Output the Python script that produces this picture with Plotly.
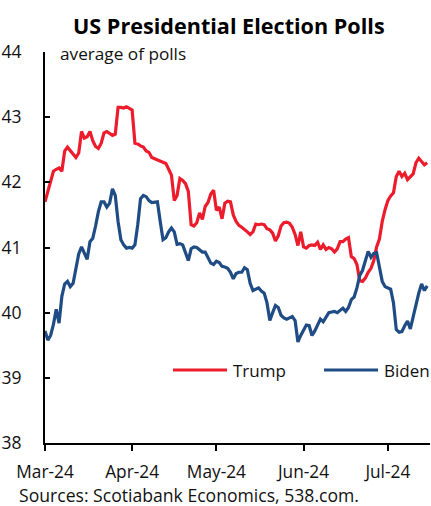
import plotly.graph_objects as go

trump_dates = [
    "2024-03-01","2024-03-02","2024-03-03","2024-03-04","2024-03-05","2024-03-06","2024-03-07","2024-03-08","2024-03-09","2024-03-10",
    "2024-03-11","2024-03-12","2024-03-13","2024-03-14","2024-03-15","2024-03-16","2024-03-17","2024-03-18","2024-03-19","2024-03-20",
    "2024-03-21","2024-03-22","2024-03-23","2024-03-24","2024-03-25","2024-03-26","2024-03-27","2024-03-28","2024-03-29","2024-03-30","2024-03-31",
    "2024-04-01","2024-04-02","2024-04-03","2024-04-04","2024-04-05","2024-04-06","2024-04-07","2024-04-08","2024-04-09","2024-04-10",
    "2024-04-11","2024-04-12","2024-04-13","2024-04-14","2024-04-15","2024-04-16","2024-04-17","2024-04-18","2024-04-19","2024-04-20",
    "2024-04-21","2024-04-22","2024-04-23","2024-04-24","2024-04-25","2024-04-26","2024-04-27","2024-04-28","2024-04-29","2024-04-30",
    "2024-05-01","2024-05-02","2024-05-03","2024-05-04","2024-05-05","2024-05-06","2024-05-07","2024-05-08","2024-05-09","2024-05-10",
    "2024-05-11","2024-05-12","2024-05-13","2024-05-14","2024-05-15","2024-05-16","2024-05-17","2024-05-18","2024-05-19","2024-05-20",
    "2024-05-21","2024-05-22","2024-05-23","2024-05-24","2024-05-25","2024-05-26","2024-05-27","2024-05-28","2024-05-29","2024-05-30","2024-05-31",
    "2024-06-01","2024-06-02","2024-06-03","2024-06-04","2024-06-05","2024-06-06","2024-06-07","2024-06-08","2024-06-09","2024-06-10",
    "2024-06-11","2024-06-12","2024-06-13","2024-06-14","2024-06-15","2024-06-16","2024-06-17","2024-06-18","2024-06-19","2024-06-20",
    "2024-06-21","2024-06-22","2024-06-23","2024-06-24","2024-06-25","2024-06-26","2024-06-27","2024-06-28","2024-06-29","2024-06-30",
    "2024-07-01","2024-07-02","2024-07-03","2024-07-04","2024-07-05","2024-07-06","2024-07-07","2024-07-08","2024-07-09","2024-07-10",
    "2024-07-11","2024-07-12","2024-07-13","2024-07-14","2024-07-15",
]
biden_dates = trump_dates

trump = [
    41.70, 41.86, 42.04, 42.17, 42.20, 42.22, 42.17, 42.48, 42.54, 42.49,
    42.43, 42.38, 42.45, 42.78, 42.68, 42.70, 42.78, 42.64, 42.55, 42.52,
    42.60, 42.76, 42.78, 42.75, 42.72, 42.74, 43.15, 43.15, 43.14, 43.16, 43.13,
    43.11, 42.60, 42.59, 42.56, 42.54, 42.48, 42.46, 42.38, 42.36, 42.34,
    42.32, 42.31, 42.29, 42.20, 42.11, 41.72, 41.80, 42.06, 42.03, 41.98,
    41.86, 41.35, 41.33, 41.38, 41.53, 41.43, 41.63, 41.69, 41.82, 41.88,
    41.57, 41.62, 41.44, 41.68, 41.71, 41.70, 41.50, 41.40, 41.34, 41.31,
    41.28, 41.24, 41.20, 41.24, 41.36, 41.35, 41.36, 41.35, 41.29, 41.27,
    41.22, 41.10, 41.18, 41.33, 41.38, 41.39, 41.37, 41.31, 41.20, 41.03, 41.24,
    41.01, 40.99, 41.03, 41.04, 41.03, 41.08, 40.97, 41.04, 40.97, 41.00,
    40.98, 40.93, 40.98, 41.09, 41.09, 41.13, 41.15, 40.86, 40.83, 40.74,
    40.49, 40.48, 40.53, 40.62, 40.68, 40.80, 41.01, 41.13, 41.40, 41.58,
    41.72, 41.79, 41.84, 42.09, 42.17, 42.09, 42.14, 42.04, 42.08, 42.13,
    42.30, 42.37, 42.32, 42.27, 42.30,
]

biden = [
    39.72, 39.58, 39.65, 39.82, 40.05, 39.84, 40.25, 40.44, 40.48, 40.40,
    40.45, 40.67, 40.90, 41.01, 40.90, 40.82, 41.09, 41.14, 41.33, 41.55,
    41.70, 41.70, 41.62, 41.68, 41.90, 41.80, 41.40, 41.12, 41.04, 40.99, 41.00,
    40.99, 41.04, 41.35, 41.75, 41.80, 41.78, 41.72, 41.69, 41.69, 41.70,
    41.40, 41.12, 41.15, 41.24, 41.30, 41.24, 41.05, 41.06, 41.04, 40.93,
    40.80, 40.98, 41.01, 41.00, 40.97, 40.93, 40.93, 40.83, 40.76, 40.74,
    40.79, 40.77, 40.71, 40.70, 40.68, 40.62, 40.52, 40.60, 40.62, 40.62,
    40.69, 40.66, 40.45, 40.34, 40.36, 40.38, 40.33, 40.30, 40.15, 39.88,
    40.00, 40.11, 40.08, 39.96, 39.92, 39.90, 39.92, 39.94, 39.88, 39.55, 39.65,
    39.73, 39.81, 39.80, 39.65, 39.72, 39.82, 39.90, 39.86, 39.92, 40.00,
    40.01, 40.02, 40.00, 40.03, 40.07, 40.02, 40.08, 40.20, 40.24, 40.38,
    40.57, 40.65, 40.80, 40.94, 40.85, 40.91, 40.92, 40.70, 40.48, 40.40,
    40.38, 40.36, 40.15, 39.74, 39.70, 39.71, 39.80, 39.87, 39.75, 39.94,
    40.12, 40.30, 40.44, 40.34, 40.41,
]

series_names = ["Trump", "Biden"]
series_colors = ["#EC1C2D", "#1F4C84"]
title_text = "US Presidential Election Polls"
unit_text = "average of polls"
source_text = "Sources: Scotiabank Economics, 538.com."

FONT = "'Open Sans', 'Noto Sans', sans-serif"

fig = go.Figure()
fig.add_trace(go.Scatter(x=trump_dates, y=trump, mode="lines", name=series_names[0],
                         line=dict(color=series_colors[0], width=3.2), showlegend=False))
fig.add_trace(go.Scatter(x=biden_dates, y=biden, mode="lines", name=series_names[1],
                         line=dict(color=series_colors[1], width=3.2), showlegend=False))

W, H = 431, 506
L, R, T, B = 45, 1, 52, 63
pw = W - L - R
ph = H - T - B

def px(x):
    return (x - L) / pw

def py(y):
    return (H - B - y) / ph

# Manual legend
legend_items = [(173, 227, 231), (324, 378, 382)]
for (x0, x1, xt), name, col in zip(legend_items, series_names, series_colors):
    fig.add_shape(type="line", xref="paper", yref="paper", x0=px(x0), x1=px(x1),
                  y0=py(370), y1=py(370), line=dict(color=col, width=3.2))
    fig.add_annotation(xref="paper", yref="paper", x=px(xt), y=py(370), text=name,
                       showarrow=False, xanchor="left", yanchor="middle",
                       font=dict(family=FONT, size=17, color="#111111"))

fig.add_annotation(xref="paper", yref="paper", x=px(229), y=py(25), text="<b>" + title_text + "</b>",
                   showarrow=False, xanchor="center", yanchor="middle",
                   font=dict(family=FONT, size=21.6, color="#000000"))
fig.add_annotation(xref="paper", yref="paper", x=px(58), y=py(53), text=unit_text,
                   showarrow=False, xanchor="left", yanchor="middle",
                   font=dict(family=FONT, size=17.2, color="#111111"))
fig.add_annotation(xref="paper", yref="paper", x=px(17), y=py(495), text=source_text,
                   showarrow=False, xanchor="left", yanchor="middle",
                   font=dict(family=FONT, size=17.6, color="#111111"))

fig.update_layout(
    width=W, height=H,
    margin=dict(l=L, r=R, t=T, b=B, pad=0),
    paper_bgcolor="white", plot_bgcolor="white",
    font=dict(family=FONT, size=17, color="#111111"),
)
fig.update_xaxes(
    type="date", range=["2024-03-01", "2024-07-16"],
    dtick="M1", tick0="2024-03-01", tickformat="%b-%y",
    showgrid=False, zeroline=False,
    showline=True, linecolor="#000000", linewidth=2,
    ticks="outside", ticklen=6, tickwidth=2, tickcolor="#000000",
    ticklabelstandoff=6,
    tickfont=dict(family=FONT, size=17.3, color="#111111"),
)
fig.update_yaxes(
    range=[38, 44], dtick=1, tick0=38,
    showgrid=False, zeroline=False,
    showline=True, linecolor="#000000", linewidth=2,
    ticks="inside", ticklen=5, tickwidth=2, tickcolor="#000000",
    ticklabelstandoff=18,
    tickfont=dict(family=FONT, size=17.5, color="#111111"),
)

fig.write_html("out.html")
